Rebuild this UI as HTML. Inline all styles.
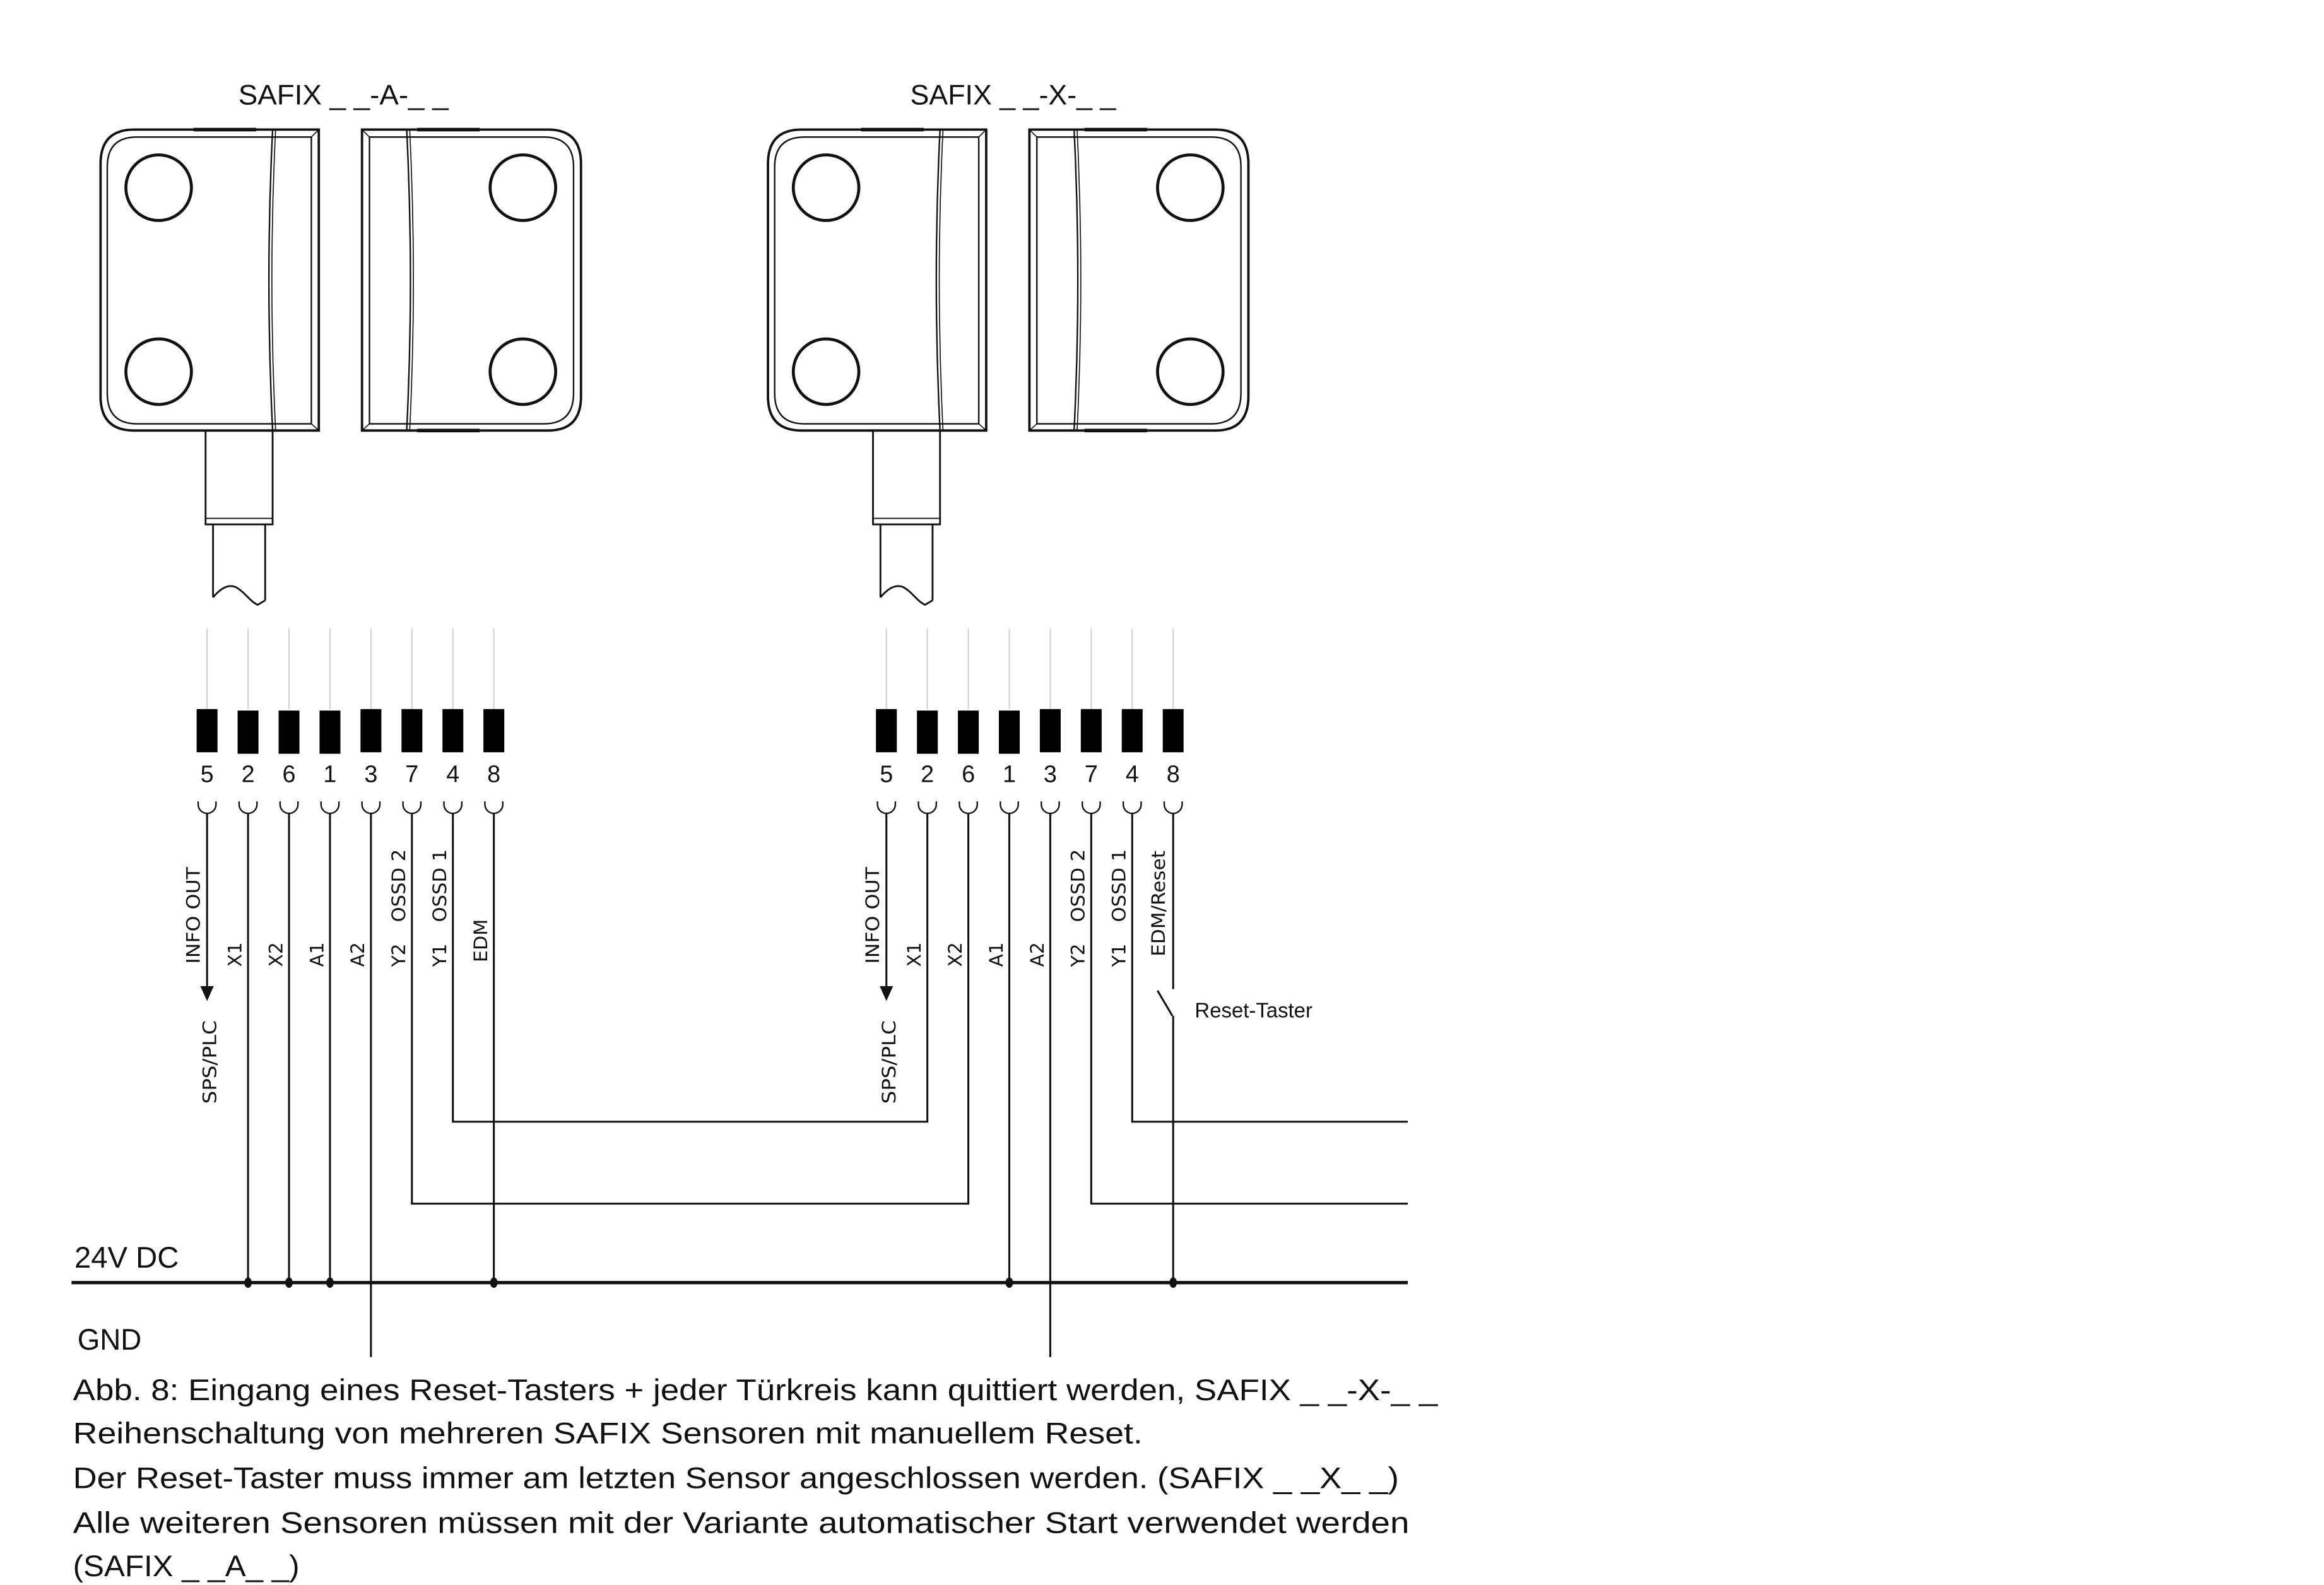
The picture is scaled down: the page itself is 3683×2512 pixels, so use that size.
<!DOCTYPE html>
<html><head><meta charset="utf-8"><style>
html,body{margin:0;padding:0;background:#fff;}
svg{display:block;}
</style></head><body>
<svg xmlns="http://www.w3.org/2000/svg" width="3683" height="2512" viewBox="0 0 1560 1064" preserveAspectRatio="none">
<defs>
<g id="sensor" fill="none" stroke="#111">
  <!-- body -->
  <path d="M214,87 H90 Q67.5,87 67.5,110 V266 Q67.5,289 90,289 H214 Z" stroke-width="1.6"/>
  <path d="M183,92 H92 Q72,92 72,112 V264 Q72,284.5 92,284.5 H183" stroke-width="1"/>
  <path d="M183,87 Q178,188 183,289" stroke-width="1"/>
  <path d="M185,87 Q180,188 185,289" stroke-width="0.7"/>
  <path d="M183,92 H209 V284.5 H183" stroke-width="1"/>
  <line x1="209" y1="92" x2="214" y2="87" stroke-width="0.7"/>
  <line x1="209" y1="284.5" x2="214" y2="289" stroke-width="0.7"/>
  <line x1="130" y1="87" x2="172" y2="87" stroke-width="2.4"/>
  <circle cx="106.5" cy="126" r="22" stroke-width="2"/>
  <circle cx="106.5" cy="249.5" r="22" stroke-width="2"/>
  <!-- actuator -->
  <path d="M243,87 H368 Q390,87 390,110 V266 Q390,289 368,289 H243 Z" stroke-width="1.6"/>
  <path d="M273,92 H365 Q385,92 385,112 V264 Q385,284.5 365,284.5 H273" stroke-width="1"/>
  <path d="M273,87 Q278,188 273,289" stroke-width="1"/>
  <path d="M275,87 Q280,188 275,289" stroke-width="0.7"/>
  <path d="M273,92 H248 V284.5 H273" stroke-width="1"/>
  <line x1="248" y1="92" x2="243" y2="87" stroke-width="0.7"/>
  <line x1="248" y1="284.5" x2="243" y2="289" stroke-width="0.7"/>
  <line x1="280" y1="87" x2="322" y2="87" stroke-width="2.4"/>
  <line x1="280" y1="289" x2="322" y2="289" stroke-width="2.4"/>
  <circle cx="351" cy="126" r="22" stroke-width="2"/>
  <circle cx="351" cy="249.5" r="22" stroke-width="2"/>
  <!-- cable -->
  <path d="M138,289 V352 H183 V289" stroke-width="1.2"/>
  <line x1="138" y1="348" x2="183" y2="348" stroke-width="0.8"/>
  <path d="M143,352 V401 M178,352 V403" stroke-width="1.2"/>
  <path d="M143,401 C148,395 153,392 158,394 C164,397 168,404 173,406 L178,403" stroke-width="1.2"/>
</g>
<g id="pins">
  <g stroke="#ccc" stroke-width="0.8">
    <line x1="139" y1="422" x2="139" y2="476"/><line x1="166.5" y1="422" x2="166.5" y2="476"/>
    <line x1="194" y1="422" x2="194" y2="476"/><line x1="221.5" y1="422" x2="221.5" y2="476"/>
    <line x1="249" y1="422" x2="249" y2="476"/><line x1="276.5" y1="422" x2="276.5" y2="476"/>
    <line x1="304" y1="422" x2="304" y2="476"/><line x1="331.5" y1="422" x2="331.5" y2="476"/>
  </g>
  <g fill="#000">
    <rect x="132" y="476" width="14" height="29"/><rect x="159.5" y="477" width="14" height="29"/>
    <rect x="187" y="477" width="14" height="29"/><rect x="214.5" y="477" width="14" height="29"/>
    <rect x="242" y="476" width="14" height="29"/><rect x="269.5" y="476" width="14" height="29"/>
    <rect x="297" y="476" width="14" height="29"/><rect x="324.5" y="476" width="14" height="29"/>
  </g>
  <g font-family="Liberation Sans, sans-serif" font-size="16" text-anchor="middle" fill="#111">
    <text x="139" y="525">5</text><text x="166.5" y="525">2</text><text x="194" y="525">6</text><text x="221.5" y="525">1</text>
    <text x="249" y="525">3</text><text x="276.5" y="525">7</text><text x="304" y="525">4</text><text x="331.5" y="525">8</text>
  </g>
  <g fill="none" stroke="#111" stroke-width="1">
    <path d="M133,538 v2 a6,6 0 0 0 12,0 v-2"/><path d="M160.5,538 v2 a6,6 0 0 0 12,0 v-2"/>
    <path d="M188,538 v2 a6,6 0 0 0 12,0 v-2"/><path d="M215.5,538 v2 a6,6 0 0 0 12,0 v-2"/>
    <path d="M243,538 v2 a6,6 0 0 0 12,0 v-2"/><path d="M270.5,538 v2 a6,6 0 0 0 12,0 v-2"/>
    <path d="M298,538 v2 a6,6 0 0 0 12,0 v-2"/><path d="M325.5,538 v2 a6,6 0 0 0 12,0 v-2"/>
  </g>
  <line x1="139" y1="546" x2="139" y2="663" stroke="#111" stroke-width="1.3"/>
  <path d="M134.5,662 L143.5,662 L139,672 Z" fill="#111"/>
</g>
</defs>

<g font-family="Liberation Sans, sans-serif" font-size="19" fill="#111">
  <text x="160" y="70" textLength="141" lengthAdjust="spacingAndGlyphs">SAFIX _ _-A-_ _</text>
  <text x="611" y="70" textLength="138" lengthAdjust="spacingAndGlyphs">SAFIX _ _-X-_ _</text>
</g>

<use href="#sensor"/>
<use href="#sensor" transform="translate(448,0)"/>
<use href="#pins"/>
<use href="#pins" transform="translate(456,0)"/>

<!-- wires -->
<g fill="none" stroke="#111" stroke-width="1.3">
  <line x1="166.5" y1="546" x2="166.5" y2="859"/>
  <line x1="194" y1="546" x2="194" y2="859"/>
  <line x1="221.5" y1="546" x2="221.5" y2="859"/>
  <line x1="249" y1="546" x2="249" y2="911"/>
  <path d="M276.5,546 V808 H650 V546"/>
  <path d="M304,546 V753 H622.5 V546"/>
  <line x1="331.5" y1="546" x2="331.5" y2="859"/>
  <line x1="677.5" y1="546" x2="677.5" y2="859"/>
  <line x1="705" y1="546" x2="705" y2="911"/>
  <path d="M732.5,546 V808 H945"/>
  <path d="M760,546 V753 H945"/>
  <line x1="787.5" y1="546" x2="787.5" y2="664"/>
  <line x1="777" y1="665" x2="787" y2="682"/>
  <line x1="787.5" y1="682" x2="787.5" y2="859"/>
</g>
<line x1="48" y1="861" x2="945" y2="861" stroke="#111" stroke-width="2.2"/>
<g fill="#111">
  <ellipse cx="166.5" cy="861" rx="2.5" ry="3.5"/><ellipse cx="194" cy="861" rx="2.5" ry="3.5"/>
  <ellipse cx="221.5" cy="861" rx="2.5" ry="3.5"/><ellipse cx="331.5" cy="861" rx="2.5" ry="3.5"/>
  <ellipse cx="677.5" cy="861" rx="2.5" ry="3.5"/><ellipse cx="787.5" cy="861" rx="2.5" ry="3.5"/>
</g>

<!-- vertical labels -->
<g font-family="DejaVu Sans, sans-serif" font-size="12.5" fill="#111" lengthAdjust="spacingAndGlyphs">
  <text transform="translate(134,647) rotate(-90)" textLength="65" lengthAdjust="spacingAndGlyphs">INFO OUT</text>
  <text transform="translate(145,741) rotate(-90)" textLength="56" lengthAdjust="spacingAndGlyphs">SPS/PLC</text>
  <text transform="translate(162,649) rotate(-90)">X1</text>
  <text transform="translate(189.5,649) rotate(-90)">X2</text>
  <text transform="translate(217,649) rotate(-90)">A1</text>
  <text transform="translate(244.5,649) rotate(-90)">A2</text>
  <text transform="translate(272,649) rotate(-90)">Y2</text>
  <text transform="translate(272,619) rotate(-90)" textLength="49" lengthAdjust="spacingAndGlyphs">OSSD 2</text>
  <text transform="translate(299.5,649) rotate(-90)">Y1</text>
  <text transform="translate(299.5,619) rotate(-90)" textLength="49" lengthAdjust="spacingAndGlyphs">OSSD 1</text>
  <text transform="translate(327,646) rotate(-90)" textLength="29" lengthAdjust="spacingAndGlyphs">EDM</text>

  <text transform="translate(590,647) rotate(-90)" textLength="65" lengthAdjust="spacingAndGlyphs">INFO OUT</text>
  <text transform="translate(601,741) rotate(-90)" textLength="56" lengthAdjust="spacingAndGlyphs">SPS/PLC</text>
  <text transform="translate(618,649) rotate(-90)">X1</text>
  <text transform="translate(645.5,649) rotate(-90)">X2</text>
  <text transform="translate(673,649) rotate(-90)">A1</text>
  <text transform="translate(700.5,649) rotate(-90)">A2</text>
  <text transform="translate(728,649) rotate(-90)">Y2</text>
  <text transform="translate(728,619) rotate(-90)" textLength="49" lengthAdjust="spacingAndGlyphs">OSSD 2</text>
  <text transform="translate(755.5,649) rotate(-90)">Y1</text>
  <text transform="translate(755.5,619) rotate(-90)" textLength="49" lengthAdjust="spacingAndGlyphs">OSSD 1</text>
  <text transform="translate(782,642) rotate(-90)" textLength="71" lengthAdjust="spacingAndGlyphs">EDM/Reset</text>
</g>
<text x="802" y="683" font-family="Liberation Sans, sans-serif" font-size="14" fill="#111" textLength="79" lengthAdjust="spacingAndGlyphs">Reset-Taster</text>

<g font-family="Liberation Sans, sans-serif" font-size="20" fill="#111">
  <text x="50" y="851" textLength="70" lengthAdjust="spacingAndGlyphs">24V DC</text>
  <text x="52" y="906" textLength="43" lengthAdjust="spacingAndGlyphs">GND</text>
  <text x="49" y="940" textLength="916" lengthAdjust="spacingAndGlyphs">Abb. 8: Eingang eines Reset-Tasters + jeder Türkreis kann quittiert werden, SAFIX _ _-X-_ _</text>
  <text x="49" y="969" textLength="718" lengthAdjust="spacingAndGlyphs">Reihenschaltung von mehreren SAFIX Sensoren mit manuellem Reset.</text>
  <text x="49" y="999" textLength="890" lengthAdjust="spacingAndGlyphs">Der Reset-Taster muss immer am letzten Sensor angeschlossen werden. (SAFIX _ _X_ _)</text>
  <text x="49" y="1029" textLength="897" lengthAdjust="spacingAndGlyphs">Alle weiteren Sensoren müssen mit der Variante automatischer Start verwendet werden</text>
  <text x="49" y="1058" textLength="152" lengthAdjust="spacingAndGlyphs">(SAFIX _ _A_ _)</text>
</g>
</svg>
</body></html>
